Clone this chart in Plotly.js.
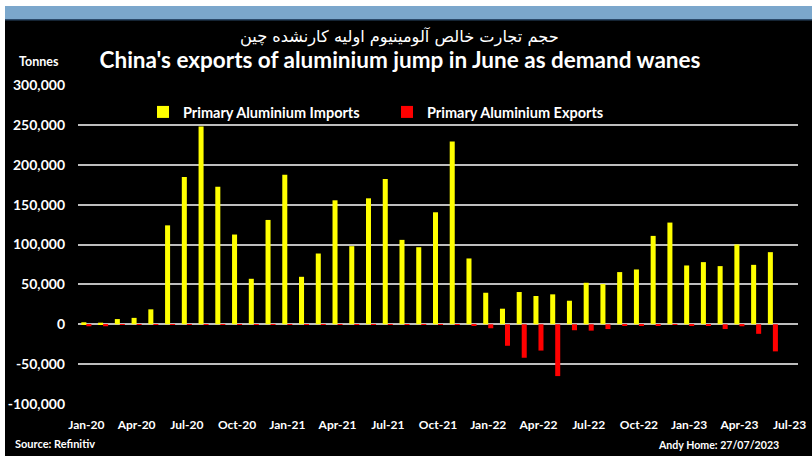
<!DOCTYPE html>
<html>
<head>
<meta charset="utf-8">
<script src="https://cdn.plot.ly/plotly-3.0.1.min.js"></script>
<style>html,body{margin:0;padding:0;background:#000;}#chart{width:812px;height:456px;}</style>
</head>
<body>
<div id="chart"></div>
<script>
// Months Jan-20 .. Jun-23
const months = [
  "Jan-20","Feb-20","Mar-20","Apr-20","May-20","Jun-20","Jul-20","Aug-20","Sep-20","Oct-20","Nov-20","Dec-20",
  "Jan-21","Feb-21","Mar-21","Apr-21","May-21","Jun-21","Jul-21","Aug-21","Sep-21","Oct-21","Nov-21","Dec-21",
  "Jan-22","Feb-22","Mar-22","Apr-22","May-22","Jun-22","Jul-22","Aug-22","Sep-22","Oct-22","Nov-22","Dec-22",
  "Jan-23","Feb-23","Mar-23","Apr-23","May-23","Jun-23"
];
const imports = [
  2500, 2000, 6500, 8000, 18700, 124000, 184500, 248000, 172500, 112500, 57000, 130800,
  187500, 59500, 88700, 155400, 97900, 157900, 182000, 105800, 96600, 140400, 229100, 82500,
  39500, 19500, 40400, 35400, 37500, 29500, 52000, 50400, 65400, 68700, 110800, 127500,
  73700, 77900, 72900, 100000, 74500, 90400
];
const exportsVals = [
  -2500, -2500, -500, -500, -500, -500, -500, -500, -500, -500, -500, -500,
  -500, -500, -500, -500, -500, -500, -500, -500, -500, -500, -500, -1000,
  -5000, -27000, -42000, -33000, -65000, -7500, -8000, -6000, -1500, -1000, -1500, -500,
  -1000, -1500, -6000, -2500, -12000, -34000
];
const xTickLabels = ["Jan-20","Apr-20","Jul-20","Oct-20","Jan-21","Apr-21","Jul-21","Oct-21","Jan-22","Apr-22","Jul-22","Oct-22","Jan-23","Apr-23","Jul-23"];
const yTickVals = [-100000, -50000, 0, 50000, 100000, 150000, 200000, 250000, 300000];
const yTickText = ["-100,000","-50,000","0","50,000","100,000","150,000","200,000","250,000","300,000"];
const seriesNames = ["Primary Aluminium Imports", "Primary Aluminium Exports"];

const idx = months.map((m, i) => i);
const xTickVals = xTickLabels.map((_, i) => i * 3);
const minorTicks = xTickLabels.map((_, i) => i * 3 - 0.5).concat([42.5]);

const FONT = "Lato, 'Open Sans', sans-serif";

const traces = [
  {type: "bar", x: idx, y: imports, name: seriesNames[0], marker: {color: "#ffff00"},
   text: months, hoverinfo: "text+y", textposition: "none"},
  {type: "bar", x: idx, y: exportsVals, name: seriesNames[1], marker: {color: "#ff0000"},
   text: months, hoverinfo: "text+y", textposition: "none"}
];

function px2x(p){ return (p - 78) / 720; }
function px2y(p){ return (404 - p) / 319; }

const layout = {
  width: 812, height: 456,
  paper_bgcolor: "#000000", plot_bgcolor: "#000000",
  margin: {l: 78, r: 14, t: 85, b: 52},
  barmode: "group", bargap: 0.4, bargroupgap: 0,
  font: {family: FONT, color: "#ffffff"},
  showlegend: true,
  legend: {orientation: "h", x: px2x(143), xanchor: "left", y: px2y(96), yanchor: "top",
           font: {family: FONT, size: 14.5, color: "#ffffff", weight: 700},
           bgcolor: "rgba(0,0,0,0)", entrywidth: 199, entrywidthmode: "pixels", itemwidth: 30},
  xaxis: {range: [-0.5, 42.5], tickmode: "array", tickvals: xTickVals, ticktext: xTickLabels,
          showgrid: false, zeroline: false, showline: false, ticks: "",
          ticklabelstandoff: 12,
          tickfont: {family: FONT, size: 12, color: "#ffffff", weight: 700}},
  xaxis2: {overlaying: "x", anchor: "free", position: 0.25, range: [-0.5, 42.5],
           tickmode: "array", tickvals: minorTicks, ticks: "outside", ticklen: 4, tickwidth: 1.5,
           tickcolor: "#b0b0b0", showticklabels: false, showgrid: false, zeroline: false,
           showline: true, linecolor: "#b8b8b8", linewidth: 1.5, side: "bottom"},
  yaxis: {range: [-100000, 300000], tickmode: "array", tickvals: yTickVals, ticktext: yTickText,
          showgrid: true, gridcolor: "#bdbdbd", gridwidth: 1.5, zeroline: false,
          showline: false, ticks: "", ticklabelstandoff: 12,
          tickfont: {family: FONT, size: 14, color: "#ffffff", weight: 700}},
  title: {text: "China's exports of aluminium jump in June as demand wanes",
          font: {family: FONT, size: 22.5, color: "#ffffff", weight: 700},
          x: px2x(400), xanchor: "center", xref: "paper", y: 1 - 60/456, yanchor: "middle", yref: "container"},
  shapes: [
    {type: "rect", xref: "paper", yref: "paper", x0: px2x(0), x1: px2x(812), y0: px2y(0), y1: px2y(6),
     fillcolor: "#ffffff", line: {width: 0}, layer: "below"},
    {type: "rect", xref: "paper", yref: "paper", x0: px2x(0), x1: px2x(812), y0: px2y(6), y1: px2y(19),
     fillcolor: "#7ba7cc", line: {width: 0}, layer: "below"},
    {type: "rect", xref: "paper", yref: "paper", x0: px2x(0), x1: px2x(812), y0: px2y(19), y1: px2y(20.5),
     fillcolor: "#2b4a6b", line: {width: 0}, layer: "below"},
    {type: "rect", xref: "paper", yref: "paper", x0: px2x(0), x1: px2x(5), y0: px2y(0), y1: px2y(456),
     fillcolor: "#ffffff", line: {width: 0}, layer: "below"}
  ],
  annotations: [
    {text: "حجم تجارت خالص آلومینیوم اولیه کارنشده چین", xref: "paper", yref: "paper",
     x: px2x(399), y: px2y(37), xanchor: "center", yanchor: "middle", showarrow: false,
     font: {family: "'DejaVu Sans', 'Noto Sans', sans-serif", size: 16.2, color: "#ffffff"}},
    {text: "Tonnes", xref: "paper", yref: "paper", x: px2x(17), y: px2y(61), xanchor: "left", yanchor: "middle",
     showarrow: false, font: {family: FONT, size: 12.5, color: "#ffffff", weight: 700}},
    {text: "Source: Refinitiv", xref: "paper", yref: "paper", x: px2x(13), y: px2y(443), xanchor: "left", yanchor: "middle",
     showarrow: false, font: {family: FONT, size: 11, color: "#ffffff", weight: 700}},
    {text: "Andy Home: 27/07/2023", xref: "paper", yref: "paper", x: px2x(781), y: px2y(445), xanchor: "right", yanchor: "middle",
     showarrow: false, font: {family: FONT, size: 10.6, color: "#ffffff", weight: 700}}
  ]
};

Plotly.newPlot("chart", traces, layout, {displayModeBar: false});
</script>
</body>
</html>
